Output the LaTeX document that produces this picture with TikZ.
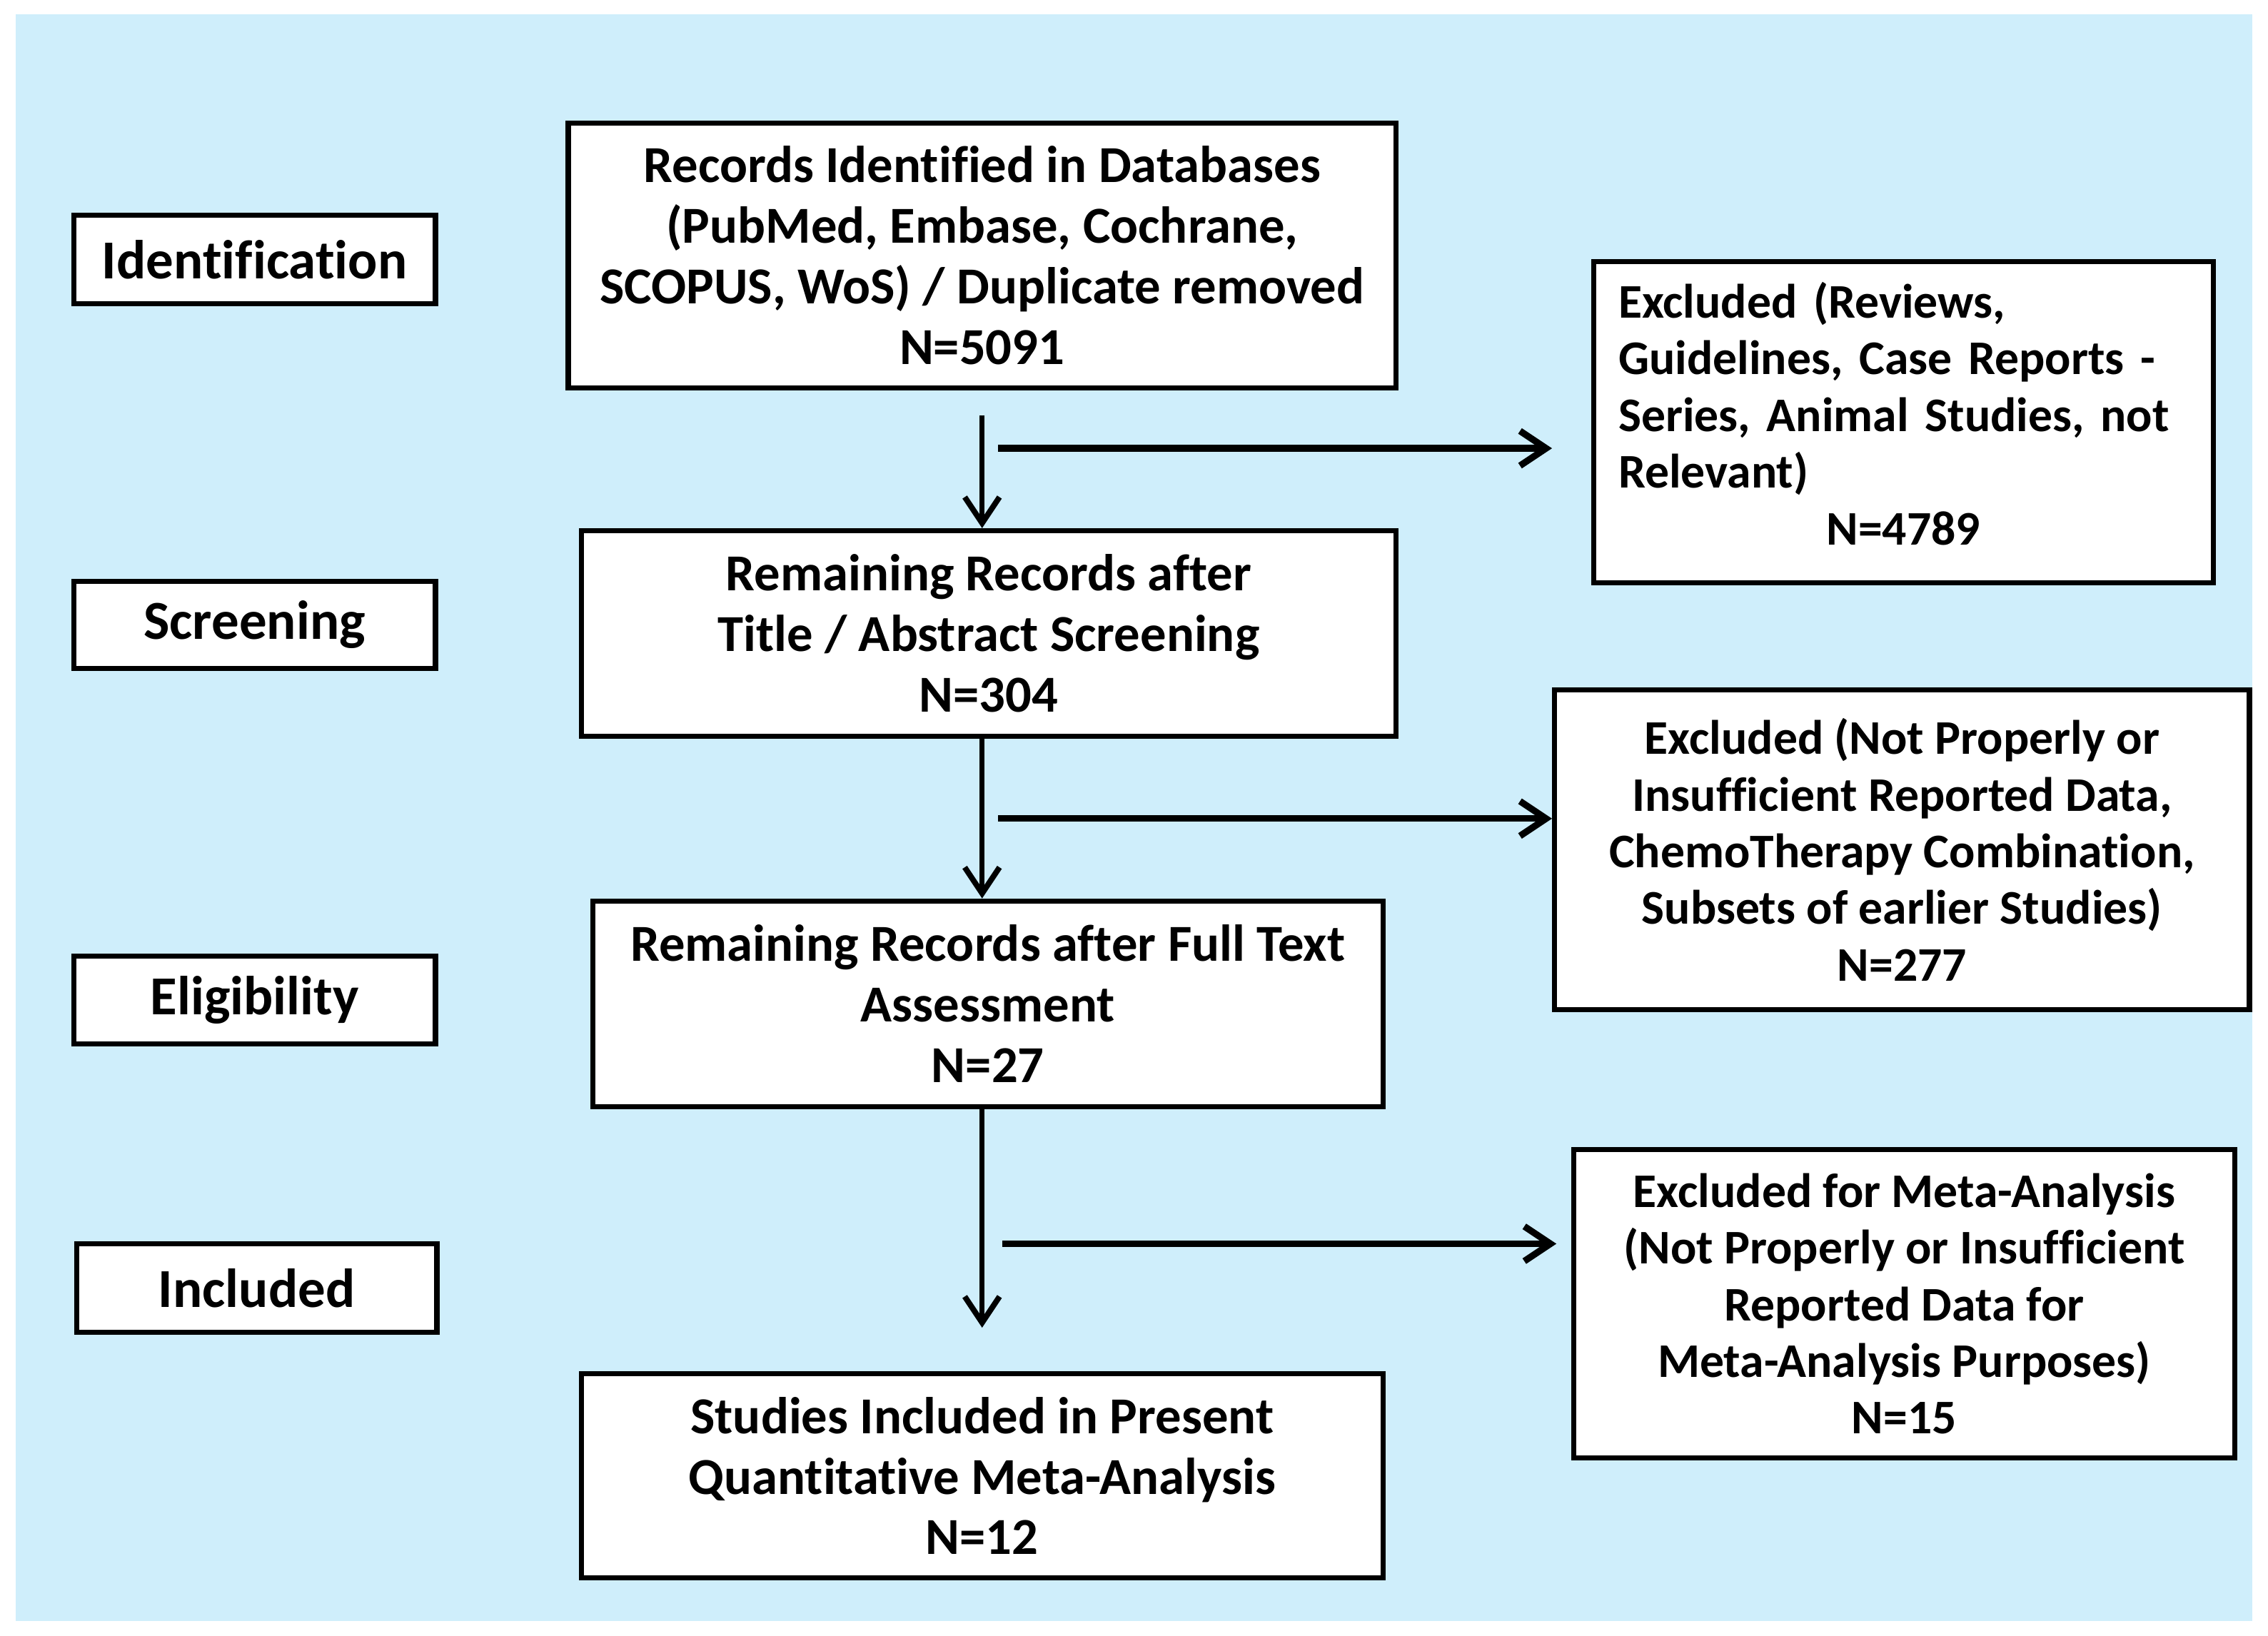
\documentclass[tikz,border=0pt]{standalone}
\usepackage{fontspec}
\setmainfont[Ligatures=NoCommon]{Carlito}
\usetikzlibrary{arrows.meta}
\definecolor{bgblue}{RGB}{207,238,251}
\tikzset{
  boxbase/.style={draw=black, line width=1pt, fill=white, inner sep=0pt, align=center},
  stagebox/.style={boxbase, font=\bfseries\fontsize{10.8}{13}\selectfont},
  mainbox/.style={boxbase, font=\bfseries\fontsize{10.2}{11.9}\selectfont},
  sidebox/.style={boxbase, font=\bfseries\fontsize{9.5}{11.15}\selectfont},
  varrow/.style={line width=1pt, -{Straight Barb[length=1.8mm,width=2.4mm,line width=1.1pt]}},
  harrow/.style={line width=1.3pt, -{Straight Barb[length=1.8mm,width=2.4mm,line width=1.3pt]}}
}
\begin{document}
\begin{tikzpicture}[x=0.01cm,y=-0.01cm]
\useasboundingbox (0,0) rectangle (1568,1131.2);
\fill[bgblue] (11,10) rectangle (1557,1121);

% stage labels
\node[stagebox, minimum width=2.5cm, minimum height=0.61cm] (sid) at (176,179.5) {Identification};
\node[stagebox, minimum width=2.5cm, minimum height=0.60cm] (sscr) at (176,432) {Screening};
\node[stagebox, minimum width=2.5cm, minimum height=0.61cm] (selig) at (176,691.5) {Eligibility};
\node[stagebox, minimum width=2.49cm, minimum height=0.61cm] (sincl) at (177.5,890.5) {Included};

% main column
\node[mainbox, minimum width=5.72cm, minimum height=1.83cm] (b1) at (679,176.5)
  {Records Identified in Databases\\(PubMed, Embase, Cochrane,\\SCOPUS, WoS) / Duplicate removed\\N=5091};
\node[mainbox, minimum width=5.63cm, minimum height=1.42cm] (b2) at (683.5,438)
  {Remaining Records after\\Title / Abstract Screening\\N=304};
\node[mainbox, minimum width=5.46cm, minimum height=1.42cm] (b3) at (683,694)
  {Remaining Records after Full Text\\Assessment\\N=27};
\node[mainbox, minimum width=5.54cm, minimum height=1.41cm] (b4) at (679,1020.5)
  {Studies Included in Present\\Quantitative Meta-Analysis\\N=12};

% side column
\node[sidebox, minimum width=4.28cm, minimum height=2.22cm, text width=3.94cm, align=left] (r1) at (1316,292)
  {Excluded (Reviews,\\Guidelines, Case Reports -\\Series, Animal Studies, not\\Relevant)\par{\centering N=4789\par}\kern0.12cm};
\node[sidebox, minimum width=4.80cm, minimum height=2.21cm] (r2) at (1315,587.5)
  {Excluded (Not Properly or\\Insufficient Reported Data,\\ChemoTherapy Combination,\\Subsets of earlier Studies)\\N=277};
\node[sidebox, minimum width=4.57cm, minimum height=2.13cm] (r3) at (1316.5,901.5)
  {Excluded for Meta-Analysis\\(Not Properly or Insufficient\\Reported Data for\\Meta-Analysis Purposes)\\N=15};

% connectors
\coordinate (vx) at (679,0);
\coordinate (a1) at (679,287);
\coordinate (a3e) at (679,918);
\coordinate (h1s) at (690,310);
\coordinate (h1e) at (1073,310);
\coordinate (h2s) at (690,566);
\coordinate (h2e) at (1073,566);
\coordinate (h3s) at (693,860);
\coordinate (h3e) at (1076,860);

\draw[varrow] (a1) -- (vx |- b2.north);
\draw[varrow] (vx |- b2.south) -- (vx |- b3.north);
\draw[varrow] (vx |- b3.south) -- (a3e);
\draw[harrow] (h1s) -- (h1e);
\draw[harrow] (h2s) -- (h2e);
\draw[harrow] (h3s) -- (h3e);
\end{tikzpicture}
\end{document}
